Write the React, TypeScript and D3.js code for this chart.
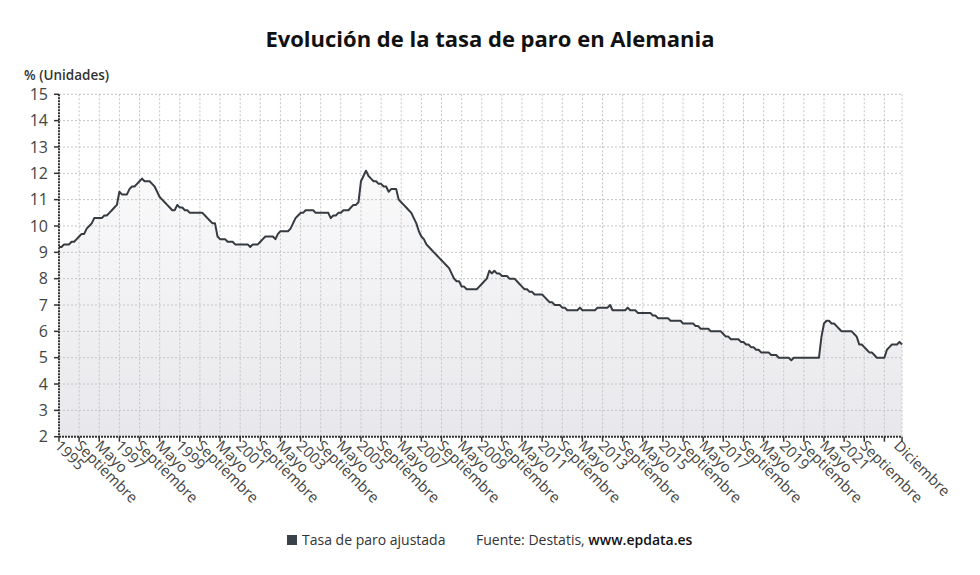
import * as d3 from "d3";

// Tasa de paro ajustada (%), mensual, enero 1995 - diciembre 2022
const rates1995to1998 = [
  9.2, 9.2, 9.3, 9.3, 9.3, 9.4, 9.4, 9.5, 9.6, 9.7, 9.7, 9.9,
  10.0, 10.1, 10.3, 10.3, 10.3, 10.3, 10.4, 10.4, 10.5, 10.6, 10.7, 10.8,
  11.3, 11.2, 11.2, 11.2, 11.4, 11.5, 11.5, 11.6, 11.7, 11.8, 11.7, 11.7,
  11.7, 11.6, 11.5, 11.3, 11.1, 11.0, 10.9, 10.8, 10.7, 10.6, 10.6, 10.8,
];
const rates1999to2002 = [
  10.7, 10.7, 10.6, 10.6, 10.5, 10.5, 10.5, 10.5, 10.5, 10.5, 10.4, 10.3,
  10.2, 10.1, 10.1, 9.6, 9.5, 9.5, 9.5, 9.4, 9.4, 9.4, 9.3, 9.3,
  9.3, 9.3, 9.3, 9.3, 9.2, 9.3, 9.3, 9.3, 9.4, 9.5, 9.6, 9.6,
  9.6, 9.6, 9.5, 9.7, 9.8, 9.8, 9.8, 9.8, 9.9, 10.1, 10.3, 10.4,
];
const rates2003to2006 = [
  10.5, 10.5, 10.6, 10.6, 10.6, 10.6, 10.5, 10.5, 10.5, 10.5, 10.5, 10.5,
  10.3, 10.4, 10.4, 10.5, 10.5, 10.6, 10.6, 10.6, 10.7, 10.8, 10.8, 10.9,
  11.7, 11.9, 12.1, 11.9, 11.8, 11.7, 11.7, 11.6, 11.6, 11.5, 11.5, 11.3,
  11.4, 11.4, 11.4, 11.0, 10.9, 10.8, 10.7, 10.6, 10.5, 10.3, 10.1, 9.8,
];
const rates2007to2010 = [
  9.6, 9.5, 9.3, 9.2, 9.1, 9.0, 8.9, 8.8, 8.7, 8.6, 8.5, 8.4,
  8.2, 8.0, 7.9, 7.9, 7.7, 7.7, 7.6, 7.6, 7.6, 7.6, 7.6, 7.7,
  7.8, 7.9, 8.0, 8.3, 8.2, 8.3, 8.2, 8.2, 8.1, 8.1, 8.1, 8.0,
  8.0, 8.0, 7.9, 7.8, 7.7, 7.6, 7.6, 7.5, 7.5, 7.4, 7.4, 7.4,
];
const rates2011to2014 = [
  7.4, 7.3, 7.2, 7.1, 7.1, 7.0, 7.0, 7.0, 6.9, 6.9, 6.8, 6.8,
  6.8, 6.8, 6.8, 6.9, 6.8, 6.8, 6.8, 6.8, 6.8, 6.8, 6.9, 6.9,
  6.9, 6.9, 6.9, 7.0, 6.8, 6.8, 6.8, 6.8, 6.8, 6.8, 6.9, 6.8,
  6.8, 6.8, 6.7, 6.7, 6.7, 6.7, 6.7, 6.7, 6.6, 6.6, 6.5, 6.5,
];
const rates2015to2018 = [
  6.5, 6.5, 6.5, 6.4, 6.4, 6.4, 6.4, 6.4, 6.3, 6.3, 6.3, 6.3,
  6.3, 6.2, 6.2, 6.1, 6.1, 6.1, 6.1, 6.0, 6.0, 6.0, 6.0, 6.0,
  5.9, 5.8, 5.8, 5.7, 5.7, 5.7, 5.7, 5.6, 5.6, 5.5, 5.5, 5.4,
  5.4, 5.3, 5.3, 5.2, 5.2, 5.2, 5.2, 5.1, 5.1, 5.1, 5.0, 5.0,
];
const rates2019to2022 = [
  5.0, 5.0, 5.0, 4.9, 5.0, 5.0, 5.0, 5.0, 5.0, 5.0, 5.0, 5.0,
  5.0, 5.0, 5.0, 5.8, 6.3, 6.4, 6.4, 6.3, 6.3, 6.2, 6.1, 6.0,
  6.0, 6.0, 6.0, 6.0, 5.9, 5.8, 5.5, 5.5, 5.4, 5.3, 5.2, 5.2,
  5.1, 5.0, 5.0, 5.0, 5.0, 5.3, 5.4, 5.5, 5.5, 5.5, 5.6, 5.5,
];

const startYear = 1995;
const monthNames = [
  "Enero", "Febrero", "Marzo", "Abril", "Mayo", "Junio",
  "Julio", "Agosto", "Septiembre", "Octubre", "Noviembre", "Diciembre",
];
const yTicks = [2, 3, 4, 5, 6, 7, 8, 9, 10, 11, 12, 13, 14, 15];
const tickStep = 8;

const title = "Evolución de la tasa de paro en Alemania";
const unitLabel = "% (Unidades)";
const seriesName = "Tasa de paro ajustada";

const rates = [
  ...rates1995to1998,
  ...rates1999to2002,
  ...rates2003to2006,
  ...rates2007to2010,
  ...rates2011to2014,
  ...rates2015to2018,
  ...rates2019to2022,
];

const W = 980;
const H = 575;
const margin = { top: 94.3, right: 78, bottom: 138.3, left: 59 };
const FONT = "'Open Sans', 'Noto Sans', sans-serif";

export default function App() {
  const n = rates.length;
  const x = d3.scaleLinear().domain([0, n - 1]).range([margin.left, W - margin.right]);
  const y = d3.scaleLinear().domain([2, 15]).range([H - margin.bottom, margin.top]);

  const area = d3
    .area<number>()
    .x((_, i) => x(i))
    .y0(y(2))
    .y1((d) => y(d));
  const line = d3
    .line<number>()
    .x((_, i) => x(i))
    .y((d) => y(d));

  const ticks = d3.range(0, n, tickStep);
  const lastIdx = n - 1;
  const labelFor = (i: number) => {
    const m = i % 12;
    return m === 0 ? String(startYear + Math.floor(i / 12)) : monthNames[m];
  };
  // every tick gets a label, except the one crowding the end; the end gets its month
  const labels = ticks
    .filter((i) => lastIdx - i >= tickStep)
    .map((i) => ({ i, text: labelFor(i), dx: -5 }));
  labels.push({ i: lastIdx, text: monthNames[lastIdx % 12], dx: -9 });

  const x0 = x(0);
  const x1 = x(lastIdx);
  const yBottom = y(2);
  const yTop = y(15);

  return (
    <svg
      width={W}
      height={H}
      style={{ position: "absolute", left: 0, top: 0, background: "#fff" }}
      fontFamily={FONT}
    >
      <defs>
        <linearGradient id="fillGrad" gradientUnits="userSpaceOnUse" x1={0} x2={0} y1={yTop} y2={yBottom}>
          <stop offset="0%" stopColor="#ffffff" />
          <stop offset="100%" stopColor="#e8e8ec" />
        </linearGradient>
      </defs>

      <text x={W / 2} y={47} textAnchor="middle" fontSize={22} fontWeight={700} fill="#111">
        {title}
      </text>
      <text x={24} y={80} fontSize={13.5} fontWeight={600} fill="#333">
        {unitLabel}
      </text>

      {/* area */}
      <path d={area(rates) ?? ""} fill="url(#fillGrad)" />

      {/* grid */}
      {yTicks.slice(1).map((t) => (
        <line
          key={"gy" + t}
          x1={x0}
          x2={x1}
          y1={y(t)}
          y2={y(t)}
          stroke="#c4c4c4"
          strokeDasharray="2,2"
          strokeWidth={1}
        />
      ))}
      {[...ticks.slice(1), lastIdx].map((i) => (
        <line
          key={"gx" + i}
          x1={x(i)}
          x2={x(i)}
          y1={yTop}
          y2={yBottom}
          stroke="#c4c4c4"
          strokeDasharray="2,2"
          strokeWidth={1}
        />
      ))}

      {/* line */}
      <path d={line(rates) ?? ""} fill="none" stroke="#353b40" strokeWidth={2} strokeLinejoin="round" />

      {/* y axis */}
      <line x1={x0} x2={x0} y1={yTop} y2={yBottom} stroke="#333" strokeWidth={2} strokeDasharray="2,1" />
      {yTicks.map((t) => (
        <g key={"yt" + t}>
          <line x1={x0 - 5} x2={x0} y1={y(t)} y2={y(t)} stroke="#333" strokeWidth={1.5} />
          <text x={48} y={y(t)} dy="0.36em" textAnchor="end" fontSize={16} fill="#444">
            {t}
          </text>
        </g>
      ))}

      {/* x axis */}
      <line x1={x0} x2={x1} y1={yBottom} y2={yBottom} stroke="#333" strokeWidth={2} strokeDasharray="2,1" />
      {[...ticks, lastIdx].map((i) => (
        <line key={"xt" + i} x1={x(i)} x2={x(i)} y1={yBottom} y2={yBottom + 5} stroke="#333" strokeWidth={1.5} />
      ))}
      {labels.map((l) => (
        <text
          key={"xl" + l.i}
          transform={`translate(${x(l.i) + l.dx},${yBottom + 10}) rotate(45)`}
          fontSize={15}
          fill="#444"
        >
          {l.text}
        </text>
      ))}

      {/* legend */}
      <rect x={287} y={535} width={10} height={10} fill="#3a4149" />
      <text x={302} y={545} fontSize={14} fill="#333">
        {seriesName}
      </text>
      <text x={476} y={545} fontSize={14} fill="#333">
        Fuente: Destatis,{" "}
        <tspan fontWeight={600} fill="#111">
          www.epdata.es
        </tspan>
      </text>
    </svg>
  );
}
